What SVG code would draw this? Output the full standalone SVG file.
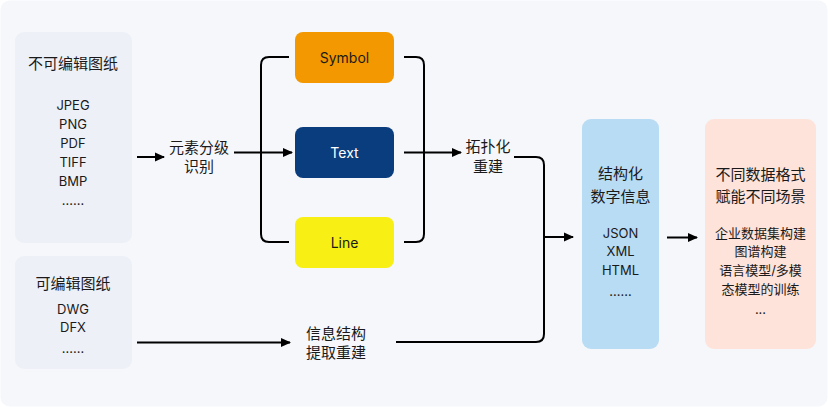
<svg xmlns="http://www.w3.org/2000/svg" width="828" height="407" viewBox="0 0 828 407">
<defs>
<marker id="ah" markerWidth="10" markerHeight="10" refX="9" refY="5" orient="auto" markerUnits="userSpaceOnUse">
<path d="M0,0.5 L10,5 L0,9.5 Z" fill="#000"/>
</marker>
<style>
text{font-family:"Inter","Noto Sans CJK SC",sans-serif;fill:#1a1a1a;text-anchor:middle;dominant-baseline:central}
.t{font-size:15px;font-weight:400}
.i{font-size:13px}
.l{font-size:15px}
.c{fill:none;stroke:#000;stroke-width:2}
</style>
</defs>
<rect x="0" y="0" width="828" height="407" fill="#fff"/>
<rect x="0.5" y="0.5" width="827" height="406" rx="9" fill="#f5f7fb"/>
<g id="n-noneditable">
<rect x="15" y="32" width="117" height="211" rx="9" fill="#edf0f7"/>
<text class="t" x="73" y="63">不可编辑图纸</text>
<text class="i" x="73" y="105">JPEG</text>
<text class="i" x="73" y="124">PNG</text>
<text class="i" x="73" y="143">PDF</text>
<text class="i" x="73" y="162">TIFF</text>
<text class="i" x="73" y="181">BMP</text>
<text class="i" x="73" y="200">……</text>
</g>
<g id="n-editable">
<rect x="15" y="256" width="117" height="113" rx="9" fill="#edf0f7"/>
<text class="t" x="73" y="283">可编辑图纸</text>
<text class="i" x="73" y="309">DWG</text>
<text class="i" x="73" y="327">DFX</text>
<text class="i" x="73" y="348">……</text>
</g>
<g id="n-recog">
<text class="l" x="199" y="147">元素分级</text>
<text class="l" x="199" y="166">识别</text>
</g>
<g id="n-symbol">
<rect x="295" y="32" width="99" height="51" rx="8" fill="#f39800"/>
<text x="344.5" y="57.5" style="font-size:14px">Symbol</text>
</g>
<g id="n-text">
<rect x="295" y="127" width="99" height="51" rx="8" fill="#0a3d7e"/>
<text x="344.5" y="152.5" style="font-size:14px;fill:#fff">Text</text>
</g>
<g id="n-line">
<rect x="295" y="217" width="99" height="51" rx="8" fill="#f8ef14"/>
<text x="344.5" y="242.5" style="font-size:14px">Line</text>
</g>
<g id="n-topo">
<text class="l" x="488" y="146">拓扑化</text>
<text class="l" x="488" y="166">重建</text>
</g>
<g id="n-extract">
<text class="l" x="336" y="333">信息结构</text>
<text class="l" x="336" y="352">提取重建</text>
</g>
<g id="n-struct">
<rect x="582" y="119" width="77" height="230" rx="9" fill="#b8dcf4"/>
<text class="t" x="620.5" y="173">结构化</text>
<text class="t" x="620.5" y="196">数字信息</text>
<text class="i" x="620.5" y="233">JSON</text>
<text class="i" x="620.5" y="251">XML</text>
<text class="i" x="620.5" y="270">HTML</text>
<text class="i" x="620.5" y="291">……</text>
</g>
<g id="n-scene">
<rect x="705" y="119" width="111" height="230" rx="9" fill="#fde3da"/>
<text class="t" x="760.5" y="174">不同数据格式</text>
<text class="t" x="760.5" y="196">赋能不同场景</text>
<text class="i" x="760.5" y="233">企业数据集构建</text>
<text class="i" x="760.5" y="251">图谱构建</text>
<text class="i" x="760.5" y="270">语言模型/多模</text>
<text class="i" x="760.5" y="289">态模型的训练</text>
<text class="i" x="760.5" y="309">...</text>
</g>
<g id="connectors">
<line class="c" x1="137" y1="157" x2="164" y2="157" marker-end="url(#ah)"/>
<line class="c" x1="234" y1="152.5" x2="292" y2="152.5" marker-end="url(#ah)"/>
<path class="c" d="M289,57 H269 Q261,57 261,65 V234 Q261,242 269,242 H289"/>
<path class="c" d="M404,57 H416 Q424,57 424,65 V234 Q424,242 416,242 H404"/>
<line class="c" x1="404" y1="152.5" x2="461" y2="152.5" marker-end="url(#ah)"/>
<path class="c" d="M514,157 H536 Q544,157 544,165 V334 Q544,342 536,342 H396"/>
<line class="c" x1="544" y1="237" x2="573" y2="237" marker-end="url(#ah)"/>
<line class="c" x1="137" y1="342.5" x2="290" y2="342.5" marker-end="url(#ah)"/>
<line class="c" x1="667" y1="237.5" x2="697" y2="237.5" marker-end="url(#ah)"/>
</g>
</svg>
